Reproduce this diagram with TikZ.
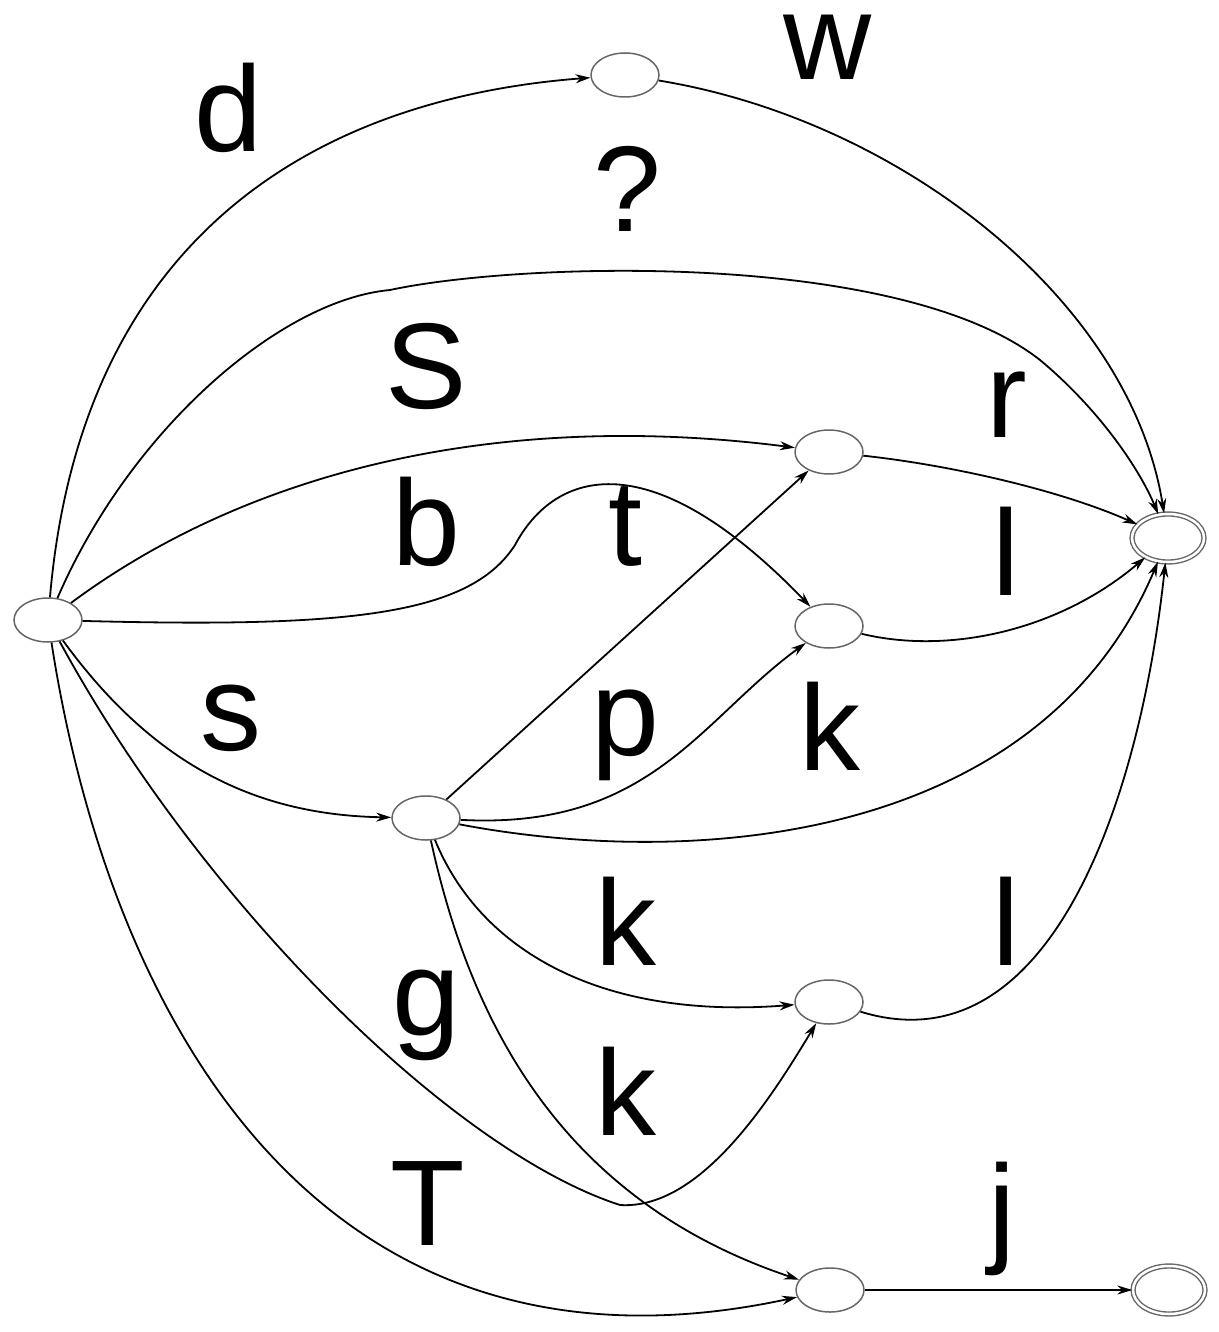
\documentclass[tikz,border=0pt]{standalone}
\usepackage{fontspec}
\setmainfont{Liberation Sans}
\usetikzlibrary{shapes.geometric,arrows.meta}
\begin{document}
\begin{tikzpicture}[x=1pt,y=-1pt,
  st/.style={ellipse,draw=black!60,line width=1.5pt,minimum width=68pt,minimum height=44pt,inner sep=0pt},
  acc/.style={ellipse,draw=black!60,line width=1.4pt,minimum width=72pt,minimum height=48pt,inner sep=0pt,double,double distance=2.5pt},
  lab/.style={anchor=base,inner sep=0pt,font=\fontsize{122}{146}\selectfont},
  ed/.style={line width=1.8pt,-{Stealth[length=15pt,width=9pt]}}]
\useasboundingbox (0,0) rectangle (1218,1332);
% states
\node[st] (A) at (48,620) {};
\node[st] (B) at (625,75) {};
\node[st] (C) at (829,452) {};
\node[st] (D) at (829,626) {};
\node[st] (E) at (426,818) {};
\node[st] (F) at (829,1002) {};
\node[st] (G) at (830,1290) {};
\node[acc] (H) at (1168,538) {};
\node[acc] (I) at (1169,1290) {};
% edges
\draw[ed] (A) .. controls (80,250) and (300,100) .. (B);
\draw[ed] (B) .. controls (900,120) and (1130,300) .. (H);
\draw[ed] (A) .. controls (130,430) and (280,300) .. (390,290)
  .. controls (520,262) and (900,250) .. (1040,360)
  .. controls (1100,410) and (1140,470) .. (H);
\draw[ed] (A) .. controls (250,470) and (500,410) .. (C);
\draw[ed] (A) .. controls (350,628) and (470,615) .. (515,545)
  .. controls (555,470) and (650,440) .. (D);
\draw[ed] (C) .. controls (950,465) and (1060,490) .. (H);
\draw[ed] (D) .. controls (950,655) and (1060,630) .. (H);
\draw[ed] (A) .. controls (150,760) and (250,815) .. (E);
\draw[ed] (E) -- (C);
\draw[ed] (E) .. controls (650,830) and (700,720) .. (D);
\draw[ed] (E) .. controls (700,870) and (1040,840) .. (H);
\draw[ed] (E) .. controls (480,950) and (600,1020) .. (F);
\draw[ed] (E) .. controls (470,1020) and (560,1200) .. (G);
\draw[ed] (A) .. controls (200,900) and (450,1150) .. (620,1205)
  .. controls (700,1210) and (770,1100) .. (F);
\draw[ed] (A) .. controls (110,1020) and (320,1400) .. (G);
\draw[ed] (F) .. controls (1050,1070) and (1140,800) .. (H);
\draw[ed] (G) -- (I);
% labels
\node[lab] (ld) at (228,152) {d};
\node[lab] (lw) at (828,80) {w};
\node[lab] (lq) at (627,232) {?};
\node[lab] (lS) at (426,408) {S};
\node[lab] (lr) at (1007,437) {r};
\node[lab] (lb) at (426,565) {b};
\node[lab] (lt) at (625,565) {t};
\node[lab] (ll1) at (1006,595) {l};
\node[lab] (ls) at (231,750) {s};
\node[lab] (lp) at (625,755) {p};
\node[lab] (lk1) at (830,770) {k};
\node[lab] (lk2) at (626,965) {k};
\node[lab] (ll2) at (1006,965) {l};
\node[lab] (lg) at (426,1035) {g};
\node[lab] (lk3) at (626,1135) {k};
\node[lab] (lT) at (428,1245) {T};
\node[lab] (lj) at (1002,1250) {j};
\end{tikzpicture}
\end{document}
